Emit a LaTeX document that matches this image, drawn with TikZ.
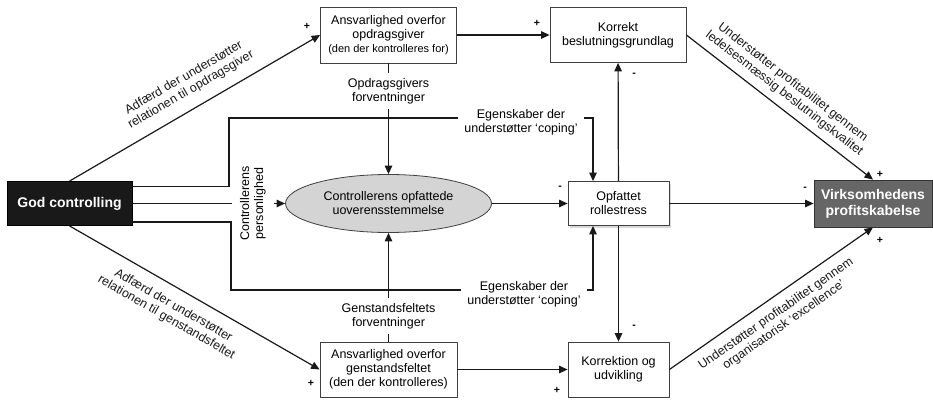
\documentclass[tikz,border=0pt]{standalone}
\usepackage{fontspec}
\setmainfont{Liberation Sans}
\usetikzlibrary{arrows.meta,shapes.geometric,shadows}

\begin{document}
\begin{tikzpicture}[x=1pt,y=-1pt,
	font=\fontsize{12.5}{14}\selectfont,
	box/.style={draw=black!75, line width=0.8pt, fill=white, align=center, inner sep=0pt},
	hbox/.style={box, text=white, font=\fontsize{14}{16}\selectfont\bfseries},
	lbl/.style={align=center, inner sep=5pt},
	sgn/.style={font=\fontsize{10.5}{10.5}\selectfont\bfseries, inner sep=0pt},
	arr/.style={-{Triangle[length=8.5pt,width=7.5pt]}},
	conn/.style={line width=1.2pt, black!90}]

	% ---- frame

	\useasboundingbox (0,0) rectangle (933,401);

	% ---- parameters

	\def\midrow{203.5}
	\def\toprow{35}
	\def\botrow{369.5}

	% ---- boxes

	\node[hbox, fill=black!90, draw=black, minimum width=125, minimum height=44] (god) at (69.5,\midrow) {God controlling};
	\node[box, minimum width=136, minimum height=56] (opd) at (388.5,\toprow)
		{Ansvarlighed overfor\\opdragsgiver\\{\fontsize{11}{13}\selectfont(den der kontrolleres for)}};
	\node[box, minimum width=136, minimum height=55] (kor) at (618,\toprow) {Korrekt\\beslutningsgrundlag};
	\node[ellipse, draw=black!75, line width=0.8pt, fill=black!17, align=center, inner sep=0pt,
		minimum width=206, minimum height=58] (ell) at (388.5,\midrow) {Controllerens opfattede\\uoverensstemmelse};
	\node[box, minimum width=101, minimum height=44,
		drop shadow={shadow xshift=1.5pt, shadow yshift=-2pt, opacity=0.3}] (opf) at (618.5,\midrow) {Opfattet\\rollestress};
	\node[hbox, fill=black!60, draw=black!80, minimum width=118, minimum height=47] (virk) at (873,\midrow) {Virksomhedens\\profitskabelse};
	\node[box, minimum width=137, minimum height=55] (gen) at (388.5,\botrow)
		{Ansvarlighed overfor\\genstandsfeltet\\(den der kontrolleres)};
	\node[box, minimum width=101, minimum height=55] (korr) at (618.5,\botrow) {Korrektion og\\udvikling};

	% ---- labels on the lines

	\node[lbl] (opdl) at (388.5,91) {Opdragsgivers\\forventninger};
	\node[lbl] (genl) at (388.5,316) {Genstandsfeltets\\forventninger};
	\node[lbl, rotate=90, inner sep=8pt] (pers) at (253,\midrow) {Controllerens\\personlighed};
	\node[lbl, inner sep=6pt] (copT) at (521,122) {Egenskaber der\\understøtter `coping'};
	\node[lbl, inner sep=6pt] (copB) at (524,294) {Egenskaber der\\understøtter `coping'};

	% ---- corners

	\coordinate (upL) at (229,118);
	\coordinate (upR) at (593,118);
	\coordinate (loL) at (231,290);
	\coordinate (loR) at (593,290);

	% ---- personality lines

	\draw[conn] ([yshift=-5pt]god.north east) -| (upL) -- (copT.west |- upL);
	\draw[conn,arr] (copT.east |- upR) -| (opf.north -| upR);
	\draw[conn] ([yshift=4pt]god.south east) -| (loL) -- (copB.west |- loL);
	\draw[conn,arr] (copB.east |- loR) -| (opf.south -| loR);
	\draw[conn] (god.east) -- (pers);
	\draw[conn,arr] (pers) -- (ell);

	% ---- expectations

	\draw[conn] (opd) -- (opdl);
	\draw[conn,arr] (opdl) -- (ell);
	\draw[conn] (gen) -- (genl);
	\draw[conn,arr] (genl) -- (ell);

	% ---- main arrows

	\draw[conn,arr] (ell) -- (opf);
	\draw[conn,arr] (opd) -- (kor);
	\draw[conn,arr] (gen) -- (korr);
	\draw[conn,arr] (opf) -- (kor);
	\draw[conn,arr] (opf) -- (korr);
	\draw[conn,arr] (opf) -- (virk);

	% ---- slanted arrows

	\draw[conn,arr] (god.north) -- (opd.west)
		node[lbl, sloped, pos=0.52, above=6pt] (adfO) {Adfærd der understøtter\\relationen til opdragsgiver};
	\draw[conn,arr] (god.south) -- (gen.west)
		node[lbl, sloped, pos=0.45, below=6pt] (adfG) {Adfærd der understøtter\\relationen til genstandsfeltet};
	\draw[conn,arr] (kor.east) -- (virk.north)
		node[lbl, sloped, pos=0.48, above=2pt] (uLed) {Understøtter profitabilitet gennem\\ledelsesmæssig beslutningskvalitet};
	\draw[conn,arr] (korr.east) -- (virk.south)
		node[lbl, sloped, pos=0.48, below=4pt] (uOrg) {Understøtter profitabilitet gennem\\organisatorisk `excellence'};

	% ---- signs

	\foreach \x/\y/\s [count=\i] in {307/26/+, 537/23/+, 634/75/-, 560/188/-, 805/189/-,
		880/174/+, 880/240/+, 634/327/-, 557/390/+, 311/383/+} {
		\node[sgn] (s\i) at (\x,\y) {\s};
	}

\end{tikzpicture}
\end{document}
